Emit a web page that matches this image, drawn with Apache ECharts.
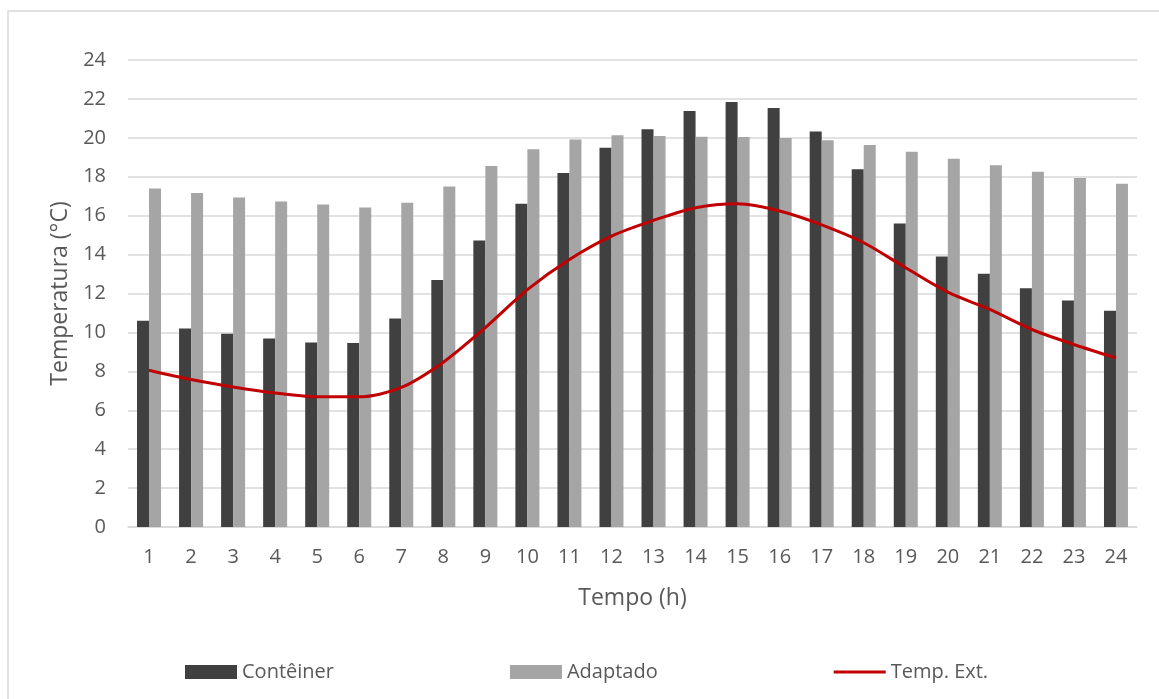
<!DOCTYPE html>
<html>
<head>
<meta charset="utf-8">
<title>Temperatura horária</title>
<script src="https://cdn.jsdelivr.net/npm/echarts@6/dist/echarts.min.js"></script>
<style>
  html, body { margin: 0; padding: 0; background: #ffffff; }
  #chart { width: 1159px; height: 699px; }
</style>
</head>
<body>
<div id="chart"></div>
<script>
// Hours of the day (x axis categories)
const hours = ['1','2','3','4','5','6','7','8','9','10','11','12','13','14','15','16','17','18','19','20','21','22','23','24'];

// Indoor temperature, container module (°C)
const conteiner = [10.6, 10.2, 9.93, 9.69, 9.48, 9.46, 10.71, 12.69, 14.73, 16.61, 18.19, 19.49,
                   20.44, 21.38, 21.84, 21.53, 20.33, 18.39, 15.6, 13.9, 13.01, 12.27, 11.64, 11.11];

// Indoor temperature, adapted module (°C)
const adaptado = [17.4, 17.16, 16.94, 16.73, 16.58, 16.42, 16.66, 17.5, 18.55, 19.41, 19.92, 20.13,
                  20.09, 20.06, 20.04, 19.99, 19.87, 19.63, 19.29, 18.93, 18.59, 18.26, 17.93, 17.64];

// Outdoor air temperature (°C)
const tempExt = [8.06, 7.58, 7.2, 6.89, 6.69, 6.69, 7.17, 8.47, 10.25, 12.2, 13.75, 14.95,
                 15.76, 16.41, 16.61, 16.24, 15.53, 14.61, 13.32, 12.07, 11.18, 10.15, 9.38, 8.69];

const textColor = '#595959';
const gridColor = '#d9d9d9';
const fontFamily = '"Open Sans", "Noto Sans", sans-serif';

// Legend glyph for the line series: a 3px bar centred in a 52x14 box
const lineIcon = 'path://M0,0L0,0M52,14L52,14M0,5.5L52,5.5L52,8.5L0,8.5Z';

const chart = echarts.init(document.getElementById('chart'), null, { renderer: 'canvas' });

chart.setOption({
  backgroundColor: '#ffffff',
  animation: false,
  textStyle: { fontFamily: fontFamily, color: textColor },
  graphic: [{
    type: 'rect',
    shape: { x: 8, y: 11, width: 1170, height: 720 },
    style: { fill: 'none', stroke: gridColor, lineWidth: 1.5 },
    silent: true
  }],
  grid: { left: 128, right: 22, top: 60, bottom: 172, containLabel: false },
  legend: {
    left: 180,
    top: 657,
    itemWidth: 52,
    itemHeight: 14,
    itemGap: 176,
    textStyle: { fontSize: 20, color: textColor, fontFamily: fontFamily },
    data: [
      { name: 'Contêiner', icon: 'rect' },
      { name: 'Adaptado', icon: 'rect' },
      { name: 'Temp. Ext.', icon: lineIcon, itemStyle: { color: '#c00000', borderWidth: 0 } }
    ]
  },
  xAxis: {
    type: 'category',
    data: hours,
    name: 'Tempo (h)',
    nameLocation: 'middle',
    nameGap: 60,
    nameTextStyle: { fontSize: 23, color: textColor, fontFamily: fontFamily },
    axisLine: { show: true, lineStyle: { color: gridColor, width: 1.5 } },
    axisTick: { show: false },
    axisLabel: { fontSize: 20, color: textColor, margin: 20, fontFamily: fontFamily }
  },
  yAxis: {
    type: 'value',
    min: 0,
    max: 24,
    interval: 2,
    name: 'Temperatura (°C)',
    nameLocation: 'middle',
    nameGap: 53,
    nameTextStyle: { fontSize: 23, color: textColor, fontFamily: fontFamily },
    axisLine: { show: false },
    axisTick: { show: false },
    axisLabel: { fontSize: 20, color: textColor, margin: 22, fontFamily: fontFamily },
    splitLine: { show: true, lineStyle: { color: gridColor, width: 1.5 } }
  },
  series: [
    {
      name: 'Contêiner',
      type: 'bar',
      data: conteiner,
      barWidth: 12,
      barGap: '0%',
      itemStyle: { color: '#404040' }
    },
    {
      name: 'Adaptado',
      type: 'bar',
      data: adaptado,
      barWidth: 12,
      barGap: '0%',
      itemStyle: { color: '#a5a5a5' }
    },
    {
      name: 'Temp. Ext.',
      type: 'line',
      data: tempExt,
      smooth: 0.3,
      symbol: 'none',
      lineStyle: { color: '#c00000', width: 3 },
      itemStyle: { color: '#c00000' },
      z: 5
    }
  ]
});
</script>
</body>
</html>
